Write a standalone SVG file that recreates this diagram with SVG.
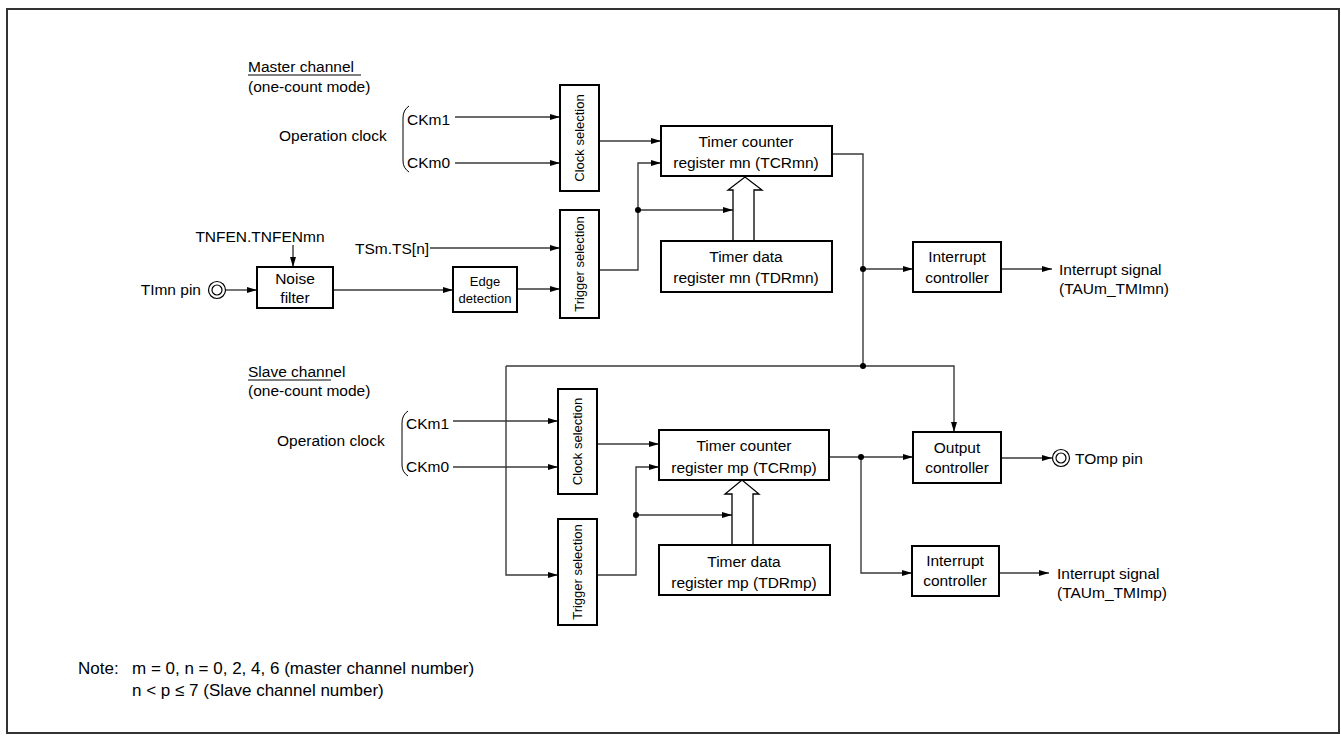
<svg xmlns="http://www.w3.org/2000/svg" width="1341" height="739" viewBox="0 0 1341 739">
<defs>
<marker id="ah" viewBox="0 0 10 6" refX="10" refY="3" markerWidth="10" markerHeight="6" markerUnits="userSpaceOnUse" orient="auto">
<path d="M0,0 L10,3 L0,6 z" fill="#000"/>
</marker>
<style>
text{font-family:"Liberation Sans",Arial,sans-serif;font-size:15.5px;fill:#000}
.c{text-anchor:middle}
.s{font-size:13px}
.n{font-size:17px}
.box{fill:#fff;stroke:#000;stroke-width:2}
.w{fill:none;stroke:#3a3a3a;stroke-width:1.4}
.a{marker-end:url(#ah)}
.dot{fill:#000}
.pin{fill:#fff;stroke:#000;stroke-width:1.2}
.hol{fill:#fff;stroke:#000;stroke-width:1.3}
</style>
</defs>
<rect x="7" y="9" width="1332" height="724" fill="#fff" stroke="#333" stroke-width="2"/>

<g id="labels">
<text x="248" y="72">Master channel</text>
<line x1="248" y1="75" x2="361" y2="75" stroke="#000" stroke-width="1"/>
<text x="248" y="92">(one-count mode)</text>
<text x="279" y="141">Operation clock</text>
<text x="407" y="125">CKm1</text>
<text x="407" y="168">CKm0</text>
<path d="M409,106 Q403,110 403,118 L403,161 Q403,168 409,172" fill="none" stroke="#000" stroke-width="1"/>
<text x="260" y="242" class="c">TNFEN.TNFENmn</text>
<text x="355" y="254">TSm.TS[n]</text>
<text x="201" y="295" text-anchor="end">TImn pin</text>
<text x="248" y="377">Slave channel</text>
<line x1="248" y1="380" x2="331" y2="380" stroke="#000" stroke-width="1"/>
<text x="248" y="396">(one-count mode)</text>
<text x="277" y="446">Operation clock</text>
<text x="406" y="429">CKm1</text>
<text x="406" y="472">CKm0</text>
<path d="M408,411 Q402,415 402,423 L402,465 Q402,472 408,476" fill="none" stroke="#000" stroke-width="1"/>
<text x="1059" y="275">Interrupt signal</text>
<text x="1059" y="294">(TAUm_TMImn)</text>
<text x="1075" y="464">TOmp pin</text>
<text x="1057" y="579">Interrupt signal</text>
<text x="1057" y="598">(TAUm_TMImp)</text>
<text x="78" y="674" class="n">Note:</text>
<text x="132" y="674" class="n">m = 0, n = 0, 2, 4, 6 (master channel number)</text>
<text x="132" y="696" class="n">n &lt; p ≤ 7 (Slave channel number)</text>
</g>

<g id="connectors">
<line class="w a" x1="455" y1="117" x2="560" y2="117"/>
<line class="w a" x1="455" y1="163" x2="560" y2="163"/>
<line class="w a" x1="599" y1="141" x2="661" y2="141"/>
<line class="w a" x1="430" y1="248" x2="560" y2="248"/>
<line class="w a" x1="293" y1="245" x2="293" y2="267"/>
<line class="w a" x1="226" y1="290" x2="257" y2="290"/>
<line class="w a" x1="333" y1="290" x2="453" y2="290"/>
<line class="w a" x1="517" y1="289" x2="560" y2="289"/>
<polyline class="w a" points="599,270 638,270 638,163 661,163"/>
<line class="w a" x1="638" y1="210" x2="733" y2="210"/>
<polyline class="w" points="832,154 863,154 863,366"/>
<line class="w a" x1="863" y1="269" x2="913" y2="269"/>
<line class="w a" x1="1001" y1="269" x2="1052" y2="269"/>
<polyline class="w a" points="506,366 954,366 954,432"/>
<polyline class="w a" points="506,366 506,575 558,575"/>
<line class="w a" x1="453" y1="421" x2="558" y2="421"/>
<line class="w a" x1="453" y1="467" x2="558" y2="467"/>
<line class="w a" x1="597" y1="444" x2="659" y2="444"/>
<polyline class="w a" points="597,575 636,575 636,467 659,467"/>
<line class="w a" x1="636" y1="515" x2="732" y2="515"/>
<line class="w a" x1="829" y1="457" x2="913" y2="457"/>
<polyline class="w a" points="861,457 861,573 912,573"/>
<line class="w a" x1="1001" y1="458" x2="1052" y2="458"/>
<line class="w a" x1="999" y1="573" x2="1049" y2="573"/>
<polygon class="hol" points="733,241 733,190 728,190 745,177 762,190 754,190 754,241"/>
<polygon class="hol" points="732,545 732,494 725,494 742,480 759,494 753,494 753,545"/>
<circle class="dot" cx="638" cy="210" r="3"/>
<circle class="dot" cx="863" cy="269" r="3"/>
<circle class="dot" cx="863" cy="366" r="3"/>
<circle class="dot" cx="636" cy="515" r="3"/>
<circle class="dot" cx="861" cy="457" r="3"/>
</g>

<g id="pin-timn">
<circle class="pin" cx="217" cy="290" r="8.5"/>
<circle class="pin" cx="217" cy="290" r="5"/>
</g>
<g id="pin-tomp">
<circle class="pin" cx="1061" cy="458" r="8.5"/>
<circle class="pin" cx="1061" cy="458" r="5"/>
</g>

<g id="clksel-m">
<rect class="box" x="560" y="85" width="39" height="106"/>
<text class="s c" transform="translate(584,138) rotate(-90)">Clock selection</text>
</g>
<g id="trgsel-m">
<rect class="box" x="560" y="210" width="39" height="108"/>
<text class="s c" transform="translate(584,264) rotate(-90)">Trigger selection</text>
</g>
<g id="noise">
<rect class="box" x="257" y="267" width="76" height="41"/>
<text class="c" x="295" y="284">Noise</text>
<text class="c" x="295" y="303">filter</text>
</g>
<g id="edge">
<rect class="box" x="453" y="267" width="64" height="45"/>
<text class="s c" x="485" y="286">Edge</text>
<text class="s c" x="485" y="303">detection</text>
</g>
<g id="tcr-mn">
<rect class="box" x="661" y="126" width="171" height="50"/>
<text class="c" x="746" y="147">Timer counter</text>
<text class="c" x="746" y="168">register mn (TCRmn)</text>
</g>
<g id="tdr-mn">
<rect class="box" x="661" y="241" width="171" height="51"/>
<text class="c" x="746" y="262">Timer data</text>
<text class="c" x="746" y="283">register mn (TDRmn)</text>
</g>
<g id="int-mn">
<rect class="box" x="913" y="242" width="88" height="50"/>
<text class="c" x="957" y="262">Interrupt</text>
<text class="c" x="957" y="283">controller</text>
</g>
<g id="clksel-s">
<rect class="box" x="558" y="389" width="39" height="105"/>
<text class="s c" transform="translate(582,441.5) rotate(-90)">Clock selection</text>
</g>
<g id="trgsel-s">
<rect class="box" x="558" y="519" width="39" height="106"/>
<text class="s c" transform="translate(582,572) rotate(-90)">Trigger selection</text>
</g>
<g id="tcr-mp">
<rect class="box" x="659" y="430" width="170" height="50"/>
<text class="c" x="744" y="451">Timer counter</text>
<text class="c" x="744" y="473">register mp (TCRmp)</text>
</g>
<g id="tdr-mp">
<rect class="box" x="659" y="545" width="171" height="50"/>
<text class="c" x="744" y="567">Timer data</text>
<text class="c" x="744" y="588">register mp (TDRmp)</text>
</g>
<g id="out-ctrl">
<rect class="box" x="913" y="432" width="88" height="51"/>
<text class="c" x="957" y="453">Output</text>
<text class="c" x="957" y="473">controller</text>
</g>
<g id="int-mp">
<rect class="box" x="912" y="546" width="87" height="50"/>
<text class="c" x="955" y="566">Interrupt</text>
<text class="c" x="955" y="586">controller</text>
</g>
</svg>
